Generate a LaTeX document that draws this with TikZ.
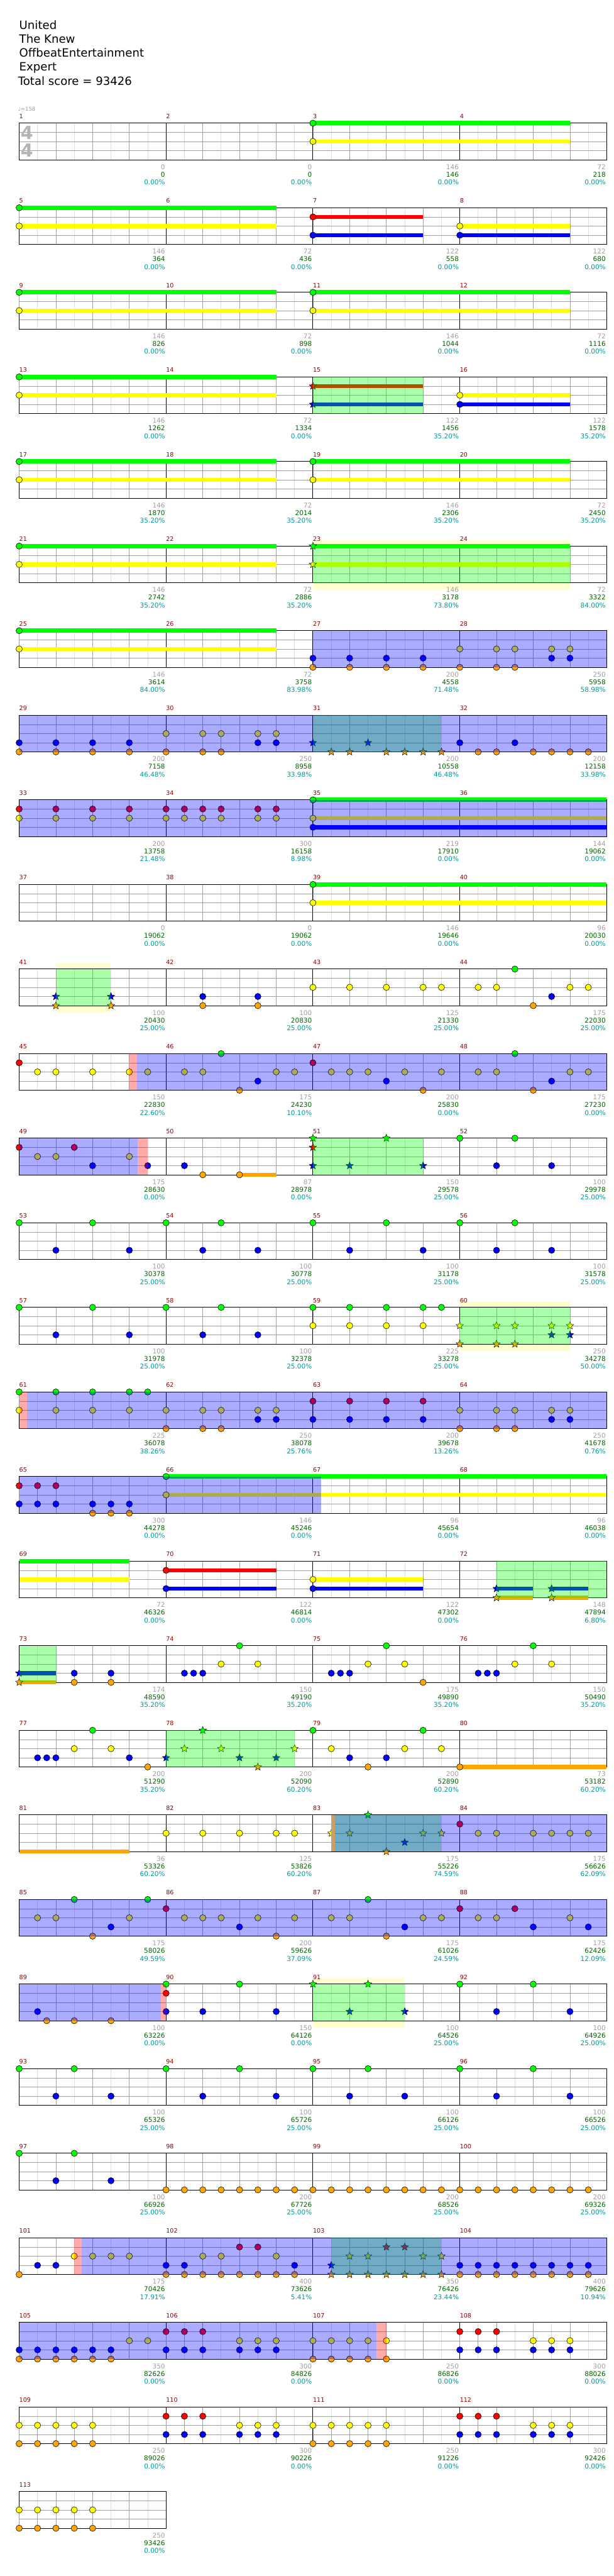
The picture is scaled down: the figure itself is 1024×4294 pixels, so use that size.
\documentclass[tikz,border=0pt]{standalone}
\usepackage{fontspec}
\setmainfont{DejaVu Sans}
\usetikzlibrary{shapes.geometric}

\definecolor{lane0}{RGB}{0,255,0}
\definecolor{lane1}{RGB}{255,0,0}
\definecolor{lane2}{RGB}{255,255,0}
\definecolor{lane3}{RGB}{0,0,255}
\definecolor{lane4}{RGB}{255,165,0}
\definecolor{barnum}{RGB}{140,0,0}
\definecolor{ptsgray}{RGB}{160,160,160}
\definecolor{ptsgreen}{RGB}{0,100,0}
\definecolor{ptsteal}{RGB}{0,153,153}
\definecolor{gridlight}{RGB}{222,222,222}
\definecolor{gridmid}{RGB}{160,160,160}
\definecolor{haloyellow}{RGB}{255,255,205}
\definecolor{tanstrip}{RGB}{200,160,110}
\definecolor{timesig}{RGB}{180,180,180}

% x of a sixteenth inside a row, y of a lane inside a row
\newcommand\px[1]{32+(#1)*15.3125}
\newcommand\py[2]{205.3+141*(#1-1)+(#2)*15.25}

% chords: position/lanes
\newcommand\notes[3][gem]{%
  \foreach \p/\ls in {#3}{%
    \pgfmathsetmacro\lo{min(\ls,\ls)}%
    \pgfmathsetmacro\hi{max(\ls,\ls)}%
    \draw[chord] ({\px{\p}},{\py{#2}{\lo}}) -- ({\px{\p}},{\py{#2}{\hi}});
    \foreach \q in \ls {\node[#1,fill=lane\q] at ({\px{\p}},{\py{#2}{\q}}) {};}
  }}
\newcommand\sus[4]{\draw[sustain,lane#2] ({\px{#3}},{\py{#1}{#2}}) -- ({\px{#4}},{\py{#1}{#2}});}
\newcommand\zone[4]{\fill[#2] ({\px{#3}},{\py{#1}{0}}) rectangle ({\px{#4}},{\py{#1}{4}});}
\newcommand\halo[3]{\fill[haloyellow] ({\px{#2}},{\py{#1}{0}-10}) rectangle ({\px{#3}},{\py{#1}{4}+11});}

\begin{document}
\begin{tikzpicture}[x=1pt, y=-1pt,
    gem/.style={circle, draw=black, line width=0.6pt, minimum size=10.5pt, inner sep=0pt},
    stargem/.style={star, star points=5, star point ratio=2.25, draw=black, line width=0.5pt, minimum size=13pt, inner sep=0pt},
    sustain/.style={line width=7pt},
    chord/.style={gridmid, line width=0.8pt},
    eighth/.style={gridlight, line width=0.8pt},
    beat/.style={gridmid, line width=0.8pt},
    bar/.style={black, line width=1pt},
    mnum/.style={barnum, anchor=base west, inner sep=0pt, font=\fontsize{10}{12}\selectfont},
    pts/.style={anchor=base east, inner sep=0pt, font=\fontsize{11}{13}\selectfont},
    head/.style={anchor=base west, inner sep=0pt, font=\fontsize{19}{23}\selectfont},
    spzone/.style={fill=lane3, fill opacity=0.33},
    actzone/.style={fill=lane0, fill opacity=0.33},
    pinkzone/.style={fill=lane1, fill opacity=0.33}
]
\useasboundingbox (0,0) rectangle (1024,4294);
\fill[white] (0,0) rectangle (1024,4294);

% header
\node[head] (title) at (32,49) {United};
\node[head] (artist) at (32,72) {The Knew};
\node[head] (charter) at (32,95) {OffbeatEntertainment};
\node[head] (level) at (32,118) {Expert};
\node[head] (total) at (30,142) {Total score = 93426};
\node[anchor=base west, inner sep=0pt, ptsgray, font=\fontsize{9}{11}\selectfont] (tempo) at (30,185) {♩=158};

% halos behind activations
\halo{6}{32}{60}
\halo{11}{4}{9.97}
\halo{15}{48}{60}
\halo{23}{32}{42}

% measures
\foreach \m/\g/\s/\pc in {1/0/0/0.00, 2/0/0/0.00, 3/146/146/0.00, 4/72/218/0.00,
  5/146/364/0.00, 6/72/436/0.00, 7/122/558/0.00, 8/122/680/0.00,
  9/146/826/0.00, 10/72/898/0.00, 11/146/1044/0.00, 12/72/1116/0.00,
  13/146/1262/0.00, 14/72/1334/0.00, 15/122/1456/35.20, 16/122/1578/35.20,
  17/146/1870/35.20, 18/72/2014/35.20, 19/146/2306/35.20, 20/72/2450/35.20,
  21/146/2742/35.20, 22/72/2886/35.20, 23/146/3178/73.80, 24/72/3322/84.00,
  25/146/3614/84.00, 26/72/3758/83.98, 27/200/4558/71.48, 28/250/5958/58.98,
  29/200/7158/46.48, 30/250/8958/33.98, 31/200/10558/46.48, 32/200/12158/33.98,
  33/200/13758/21.48, 34/300/16158/8.98, 35/219/17910/0.00, 36/144/19062/0.00,
  37/0/19062/0.00, 38/0/19062/0.00, 39/146/19646/0.00, 40/96/20030/0.00,
  41/100/20430/25.00, 42/100/20830/25.00, 43/125/21330/25.00, 44/175/22030/25.00,
  45/150/22830/22.60, 46/175/24230/10.10, 47/200/25830/0.00, 48/175/27230/0.00,
  49/175/28630/0.00, 50/87/28978/0.00, 51/150/29578/25.00, 52/100/29978/25.00,
  53/100/30378/25.00, 54/100/30778/25.00, 55/100/31178/25.00, 56/100/31578/25.00,
  57/100/31978/25.00, 58/100/32378/25.00, 59/225/33278/25.00, 60/250/34278/50.00,
  61/225/36078/38.26, 62/250/38078/25.76, 63/200/39678/13.26, 64/250/41678/0.76,
  65/300/44278/0.00, 66/146/45246/0.00, 67/96/45654/0.00, 68/96/46038/0.00,
  69/72/46326/0.00, 70/122/46814/0.00, 71/122/47302/0.00, 72/148/47894/6.80,
  73/174/48590/35.20, 74/150/49190/35.20, 75/175/49890/35.20, 76/150/50490/35.20,
  77/200/51290/35.20, 78/200/52090/60.20, 79/200/52890/60.20, 80/73/53182/60.20,
  81/36/53326/60.20, 82/125/53826/60.20, 83/175/55226/74.59, 84/175/56626/62.09,
  85/175/58026/49.59, 86/200/59626/37.09, 87/175/61026/24.59, 88/175/62426/12.09,
  89/100/63226/0.00, 90/150/64126/0.00, 91/100/64526/25.00, 92/100/64926/25.00,
  93/100/65326/25.00, 94/100/65726/25.00, 95/100/66126/25.00, 96/100/66526/25.00,
  97/100/66926/25.00, 98/200/67726/25.00, 99/200/68526/25.00, 100/200/69326/25.00,
  101/175/70426/17.91, 102/400/73626/5.41, 103/350/76426/23.44, 104/400/79626/10.94,
  105/350/82626/0.00, 106/300/84826/0.00, 107/250/86826/0.00, 108/300/88026/0.00,
  109/250/89026/0.00, 110/300/90226/0.00, 111/250/91226/0.00, 112/300/92426/0.00,
  113/250/93426/0.00}{
  \pgfmathtruncatemacro\rw{(\m-1)/4}
  \pgfmathtruncatemacro\cl{\m-1-4*\rw}
  \begin{scope}[shift={({32+245*\cl},{205.3+141*\rw})}]
    \fill[white] (0,0) rectangle (245,61);
    \foreach \k in {1,3,5,7} \draw[eighth] ({\k*30.625},0) -- ({\k*30.625},61);
    \foreach \k in {1,2,3} \draw[beat] ({\k*61.25},0) -- ({\k*61.25},61);
    \foreach \k in {1,2,3} \draw[beat] (0,{\k*15.25}) -- (245,{\k*15.25});
    \draw[bar] (0,0) rectangle (245,61);
    \node[mnum] at (0,-8) {\m};
    \node[pts,ptsgray] at (243.5,76.7) {\g};
    \node[pts,ptsgreen] at (243.5,89.7) {\s};
    \node[pts,ptsteal] at (243.5,102.7) {\pc\%};
  \end{scope}
}

% time signature
\node[timesig, font=\fontsize{30}{30}\bfseries] (tsup) at (45,221) {4};
\node[timesig, font=\fontsize{30}{30}\bfseries] (tsdown) at (45,251) {4};

% sustains
\sus{1}{0}{32}{60}\sus{1}{2}{32}{60}
\sus{2}{0}{0}{28}\sus{2}{2}{0}{28}\sus{2}{1}{32}{44}\sus{2}{3}{32}{44}\sus{2}{2}{48}{60}\sus{2}{3}{48}{60}
\sus{3}{0}{0}{28}\sus{3}{2}{0}{28}\sus{3}{0}{32}{60}\sus{3}{2}{32}{60}
\sus{4}{0}{0}{28}\sus{4}{2}{0}{28}\sus{4}{1}{32}{44}\sus{4}{3}{32}{44}\sus{4}{2}{48}{60}\sus{4}{3}{48}{60}
\sus{5}{0}{0}{28}\sus{5}{2}{0}{28}\sus{5}{0}{32}{60}\sus{5}{2}{32}{60}
\sus{6}{0}{0}{28}\sus{6}{2}{0}{28}\sus{6}{0}{32}{60}\sus{6}{2}{32}{60}
\sus{7}{0}{0}{28}\sus{7}{2}{0}{28}
\sus{9}{0}{32}{64}\sus{9}{2}{32}{64}\sus{9}{3}{32}{64}
\sus{10}{0}{32}{64}\sus{10}{2}{32}{64}
\sus{13}{4}{24}{28}
\sus{17}{0}{16}{64}\sus{17}{2}{16}{64}
\sus{18}{0}{0}{12}\sus{18}{2}{0}{12}\sus{18}{1}{16}{28}\sus{18}{3}{16}{28}\sus{18}{2}{32}{44}\sus{18}{3}{32}{44}
\sus{18}{3}{52}{56}\sus{18}{4}{52}{56}\sus{18}{3}{58}{62}\sus{18}{4}{58}{62}
\sus{19}{3}{0}{4}\sus{19}{4}{0}{4}
\sus{20}{4}{48}{64}
\sus{21}{4}{0}{12}

% notes
\notes{1}{32/{0,2}}
\notes{2}{0/{0,2},32/{1,3},48/{2,3}}
\notes{3}{0/{0,2},32/{0,2}}
\notes{4}{0/{0,2},48/{2,3}}
\notes[stargem]{4}{32/{1,3}}
\notes{5}{0/{0,2},32/{0,2}}
\notes{6}{0/{0,2}}
\notes[stargem]{6}{32/{0,2}}
\notes{7}{0/{0,2},32/{3,4},36/{3,4},40/{3,4},44/{3,4},48/{2,4},52/{2,4},54/{2,4},58/{2,3},60/{2,3}}
\notes{8}{0/{3,4},4/{3,4},8/{3,4},12/{3,4},16/{2,4},20/{2,4},22/{2,4},26/{2,3},28/{2,3},48/3,50/4,52/4,54/3,56/4,58/4,60/4,62/4}
\notes[stargem]{8}{32/3,34/4,36/4,38/3,40/4,42/4,44/4,46/4}
\notes{9}{0/{1,2},4/{1,2},8/{1,2},12/{1,2},16/{1,2},18/{1,2},20/{1,2},22/{1,2},26/{1,2},28/{1,2},32/{0,2,3}}
\notes{10}{32/{0,2}}
\notes{11}{20/{3,4},26/{3,4},32/2,36/2,40/2,44/2,46/2,50/2,52/2,54/0,56/4,58/3,60/2,62/2}
\notes[stargem]{11}{4/{3,4},10/{3,4}}
\notes{12}{0/1,2/2,4/2,8/2,12/2,14/2,18/2,20/2,22/0,24/4,26/3,28/2,30/2,32/1,34/2,36/2,38/2,40/3,42/2,44/4,46/2,50/2,52/2,54/0,56/4,58/3,60/2,62/2}
\notes{13}{0/1,2/2,4/2,6/1,8/3,12/2,14/3,18/3,20/4,24/4,48/0,52/3,54/0,58/3}
\notes[stargem]{13}{32/{0,1,3},36/3,40/0,44/3}
\notes{14}{0/0,4/3,8/0,12/3,16/0,20/3,22/0,26/3,32/0,36/3,40/0,44/3,48/0,52/3,54/0,58/3}
\notes{15}{0/0,4/3,8/0,12/3,16/0,20/3,22/0,26/3,32/{0,2},36/{0,2},40/{0,2},44/{0,2},46/0}
\notes[stargem]{15}{48/{2,4},52/{2,4},54/{2,4},58/{2,3},60/{2,3}}
\notes{16}{0/{0,2},4/{0,2},8/{0,2},12/{0,2},14/0,16/{2,4},20/{2,4},22/{2,4},26/{2,3},28/{2,3},32/{1,3},36/{1,3},40/{1,3},44/{1,3},48/{2,4},52/{2,4},54/{2,4},58/{2,3},60/{2,3}}
\notes{17}{0/{1,3},2/{1,3},4/{1,3},8/{3,4},10/{3,4},12/{3,4},16/{0,2}}
\notes{18}{16/{1,3},32/{2,3}}
\notes[stargem]{18}{52/{3,4},58/{3,4}}
\notes[stargem]{19}{0/{3,4}}
\notes{19}{6/{3,4},10/{3,4},18/3,19/3,20/3,22/2,24/0,26/2,34/3,35/3,36/3,38/2,40/0,42/2,44/4,50/3,51/3,52/3,54/2,56/0,58/2}
\notes{20}{2/3,3/3,4/3,6/2,8/0,10/2,12/3,14/4,32/0,34/2,36/3,38/4,40/3,42/2,44/0,46/2,48/4}
\notes[stargem]{20}{16/3,18/2,20/0,22/2,24/3,26/4,28/3,30/2}
\notes{21}{16/2,20/2,24/2,28/2,30/2,48/1,50/2,52/2,56/2,58/2,60/2,62/2}
\notes[stargem]{21}{34/2,36/2,38/0,40/4,42/3,44/2,46/2}
\notes{22}{2/2,4/2,6/0,8/4,10/3,12/2,14/0,16/1,18/2,20/2,22/2,24/3,26/2,28/4,30/2,34/2,36/2,38/0,40/4,42/3,44/2,46/2,48/1,50/2,52/2,54/1,56/3,60/2,62/3}
\notes{23}{2/3,3/4,6/4,10/4,16/{0,1,3},20/3,24/0,28/3,48/0,52/3,56/0,60/3}
\notes[stargem]{23}{32/0,36/3,38/0,42/3}
\notes{24}{0/0,4/3,6/0,10/3,16/0,20/3,24/0,28/3,32/0,36/3,38/0,42/3,48/0,52/3,56/0,60/3}
\notes{25}{0/0,4/3,6/0,10/3,16/4,18/4,20/4,22/4,24/4,26/4,28/4,30/4,32/4,34/4,36/4,38/4,40/4,42/4,44/4,46/4,48/4,50/4,52/4,54/4,56/4,58/4,60/4,62/4}
\notes{26}{0/4,2/3,4/3,6/2,8/2,10/2,12/2,16/{3,4},18/{3,4},20/{2,4},22/{2,4},24/{1,4},26/{1,4},28/{2,4},30/{3,4},48/{3,4},50/{3,4},52/{3,4},54/{3,4},56/{3,4},58/{3,4},60/{3,4},62/{3,4}}
\notes[stargem]{26}{34/{3,4},36/{2,4},38/{2,4},40/{1,4},42/{1,4},44/{2,4},46/{2,4}}
\notes{27}{0/{3,4},2/{3,4},4/{3,4},6/{3,4},8/{3,4},10/{3,4},12/2,14/2,16/{1,3},18/{1,3},20/{1,3},24/{2,3},26/{2,3},28/{2,3},32/{2,4},34/{2,4},36/{2,4},38/{2,4},40/{2,4},48/{1,3},50/{1,3},52/{1,3},56/{2,3},58/{2,3},60/{2,3}}
\notes{28}{0/{2,4},2/{2,4},4/{2,4},6/{2,4},8/{2,4},16/{1,3},18/{1,3},20/{1,3},24/{2,3},26/{2,3},28/{2,3},32/{2,4},34/{2,4},36/{2,4},38/{2,4},40/{2,4},48/{1,3},50/{1,3},52/{1,3},56/{2,3},58/{2,3},60/{2,3}}
\notes{29}{0/{2,4},2/{2,4},4/{2,4},6/{2,4},8/{2,4}}

% activation zones
\zone{4}{actzone}{32}{44}
\zone{6}{actzone}{32}{60}
\zone{8}{actzone}{32}{46}
\zone{11}{actzone}{4}{9.97}
\zone{13}{actzone}{32}{44}
\zone{15}{actzone}{48}{60}
\zone{18}{actzone}{52}{64}
\zone{19}{actzone}{0}{4}
\zone{20}{actzone}{16}{30}
\zone{21}{actzone}{34.43}{46}
\zone{23}{actzone}{32}{42}
\zone{26}{actzone}{34}{46}

% star power phrases
\zone{7}{spzone}{32}{64}
\zone{8}{spzone}{0}{64}
\zone{9}{spzone}{0}{64}
\zone{12}{spzone}{12.85}{64}
\zone{13}{spzone}{0}{12.93}
\zone{16}{spzone}{0.87}{64}
\zone{17}{spzone}{0}{32.87}
\zone{21}{spzone}{34.43}{64}
\zone{22}{spzone}{0}{64}
\zone{23}{spzone}{0}{15.45}
\zone{26}{spzone}{6.84}{64}
\zone{27}{spzone}{0}{38.9}

% phrase edges
\zone{12}{pinkzone}{12}{12.85}
\zone{13}{pinkzone}{12.93}{14}
\zone{16}{pinkzone}{0}{0.87}
\zone{23}{pinkzone}{15.45}{16}
\zone{26}{pinkzone}{5.97}{6.84}
\zone{27}{pinkzone}{38.9}{40}
\zone{21}{fill=tanstrip}{34}{34.43}
\end{tikzpicture}
\end{document}
